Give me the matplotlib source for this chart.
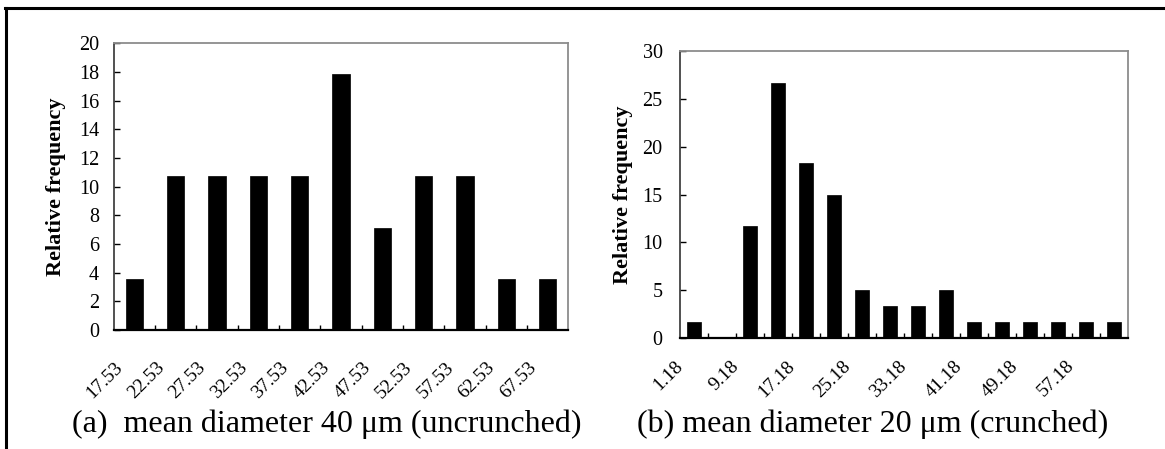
"""Particle size histograms: uncrunched vs crunched powder."""
import matplotlib
import numpy as np

matplotlib.use('Agg')
import matplotlib.pyplot as plt
from matplotlib.lines import Line2D
from matplotlib.transforms import ScaledTranslation

plt.rcParams['font.family'] = ['Liberation Serif', 'DejaVu Serif']

# (a) uncrunched, bin width 5 um
bins_a = ['17.53', '22.53', '27.53', '32.53', '37.53', '42.53',
          '47.53', '52.53', '57.53', '62.53', '67.53']
freq_a = [3.57, 10.71, 10.71, 10.71, 10.71, 17.86, 7.14, 10.71, 10.71, 3.57, 3.57]

# (b) crunched, bin width 4 um
bins_b = ['1.18', '5.18', '9.18', '13.18', '17.18', '21.18', '25.18', '29.18',
          '33.18', '37.18', '41.18', '45.18', '49.18', '53.18', '57.18', '61.18']
freq_b = [1.67, 0.0, 11.67, 26.67, 18.33, 15.0, 5.0, 3.33,
          3.33, 5.0, 1.67, 1.67, 1.67, 1.67, 1.67, 1.67]

captions = ['(a)  mean diameter 40 \u03bcm (uncrunched)',
            '(b) mean diameter 20 \u03bcm (crunched)']

fig = plt.figure(figsize=(11.65, 4.49), dpi=100)
ax_a = fig.add_axes([0.0976, 0.2650, 0.3902, 0.6385])
ax_b = fig.add_axes([0.5837, 0.2465, 0.3844, 0.6405])


def draw_hist(ax, labels, freq, width, ymax, ystep, label_every, xpad, dx_px, ypad):
    n = len(labels)
    x = np.arange(n)
    ax.bar(x, freq, width=width, color='black', edgecolor='black', linewidth=0.5)
    ax.set_xlim(-0.5, n - 0.5)
    ax.set_ylim(0, ymax)
    ax.set_yticks(np.arange(0, ymax + 0.1, ystep))
    ax.tick_params(axis='y', direction='in', length=4.5, width=1.0,
                   labelsize=14.5, pad=ypad)

    # category boundaries as small inward ticks, labels at bar centres
    ax.set_xticks(x[::label_every])
    ax.set_xticklabels(labels[::label_every])
    ax.set_xticks(x[:-1] + 0.5, minor=True)
    ax.tick_params(axis='x', which='major', length=0, labelsize=14, pad=xpad)
    ax.tick_params(axis='x', which='minor', direction='in', length=3.5, width=1.0)
    shift = ScaledTranslation(dx_px / 100, 0, fig.dpi_scale_trans)
    for lab in ax.get_xticklabels():
        lab.set_rotation(45)
        lab.set_rotation_mode('anchor')
        lab.set_ha('right')
        lab.set_va('center')
        lab.set_transform(lab.get_transform() + shift)

    for side in ('top', 'right'):
        ax.spines[side].set_color('#8c8c8c')
        ax.spines[side].set_linewidth(1.3)
    ax.spines['left'].set_color('#333333')
    ax.spines['left'].set_linewidth(1.2)
    ax.spines['bottom'].set_color('black')
    ax.spines['bottom'].set_linewidth(1.6)

    ax.set_ylabel('Relative frequency', fontsize=16, fontweight='bold')
    ax.yaxis.set_label_coords(-0.104, 0.5)


draw_hist(ax_a, bins_a, freq_a, 0.42, 20, 2, 1, xpad=25, dx_px=-14, ypad=10.5)
draw_hist(ax_b, bins_b, freq_b, 0.49, 30, 5, 2, xpad=18, dx_px=-14, ypad=12.5)

fig.text(0.2807, 0.038, captions[0], fontsize=23, ha='center', va='baseline')
fig.text(0.7494, 0.038, captions[1], fontsize=23, ha='center', va='baseline')

# frame lines along the top and left edge
fig.add_artist(Line2D([0.0043, 1.0], [0.982, 0.982], color='black', linewidth=2.2,
                      transform=fig.transFigure))
fig.add_artist(Line2D([0.0055, 0.0055], [0.0, 0.982], color='black', linewidth=2.2,
                      transform=fig.transFigure))

fig.savefig('out.png', dpi=100)
plt.close(fig)
